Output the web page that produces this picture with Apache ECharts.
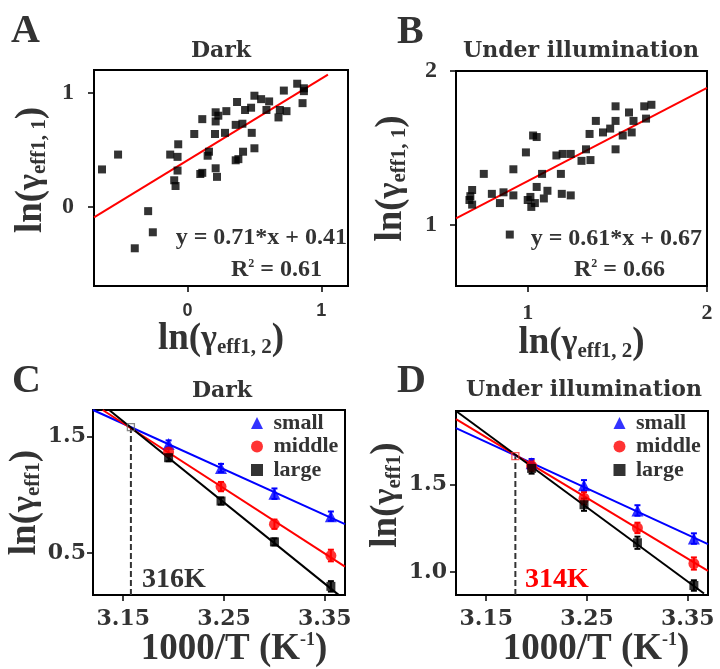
<!DOCTYPE html>
<html>
<head>
<meta charset="UTF-8">
<title>ln(γ) panels</title>
<script src="https://cdn.jsdelivr.net/npm/echarts@6.0.0/dist/echarts.min.js"></script>
<style>
  html, body { margin: 0; padding: 0; background: #fff; }
  #chart { width: 720px; height: 669px; }
</style>
</head>
<body>
<div id="chart"></div>
<script>
// ---- panel A (dark) ----
const darkX = [-0.64, -0.52, -0.295, -0.26, -0.395, -0.13, -0.07, -0.075, -0.075, -0.10, -0.09, 0.05, 0.11, 0.095, 0.11, 0.16, 0.15,
  0.21, 0.21, 0.23, 0.29, 0.205, 0.28, 0.21, 0.22, 0.37, 0.36, 0.41, 0.36, 0.38, 0.415, 0.43, 0.475, 0.50, 0.55, 0.48, 0.50,
  0.61, 0.59, 0.68, 0.69, 0.74, 0.72, 0.82, 0.87, 0.86, 0.87];
const darkY = [0.33, 0.46, -0.035, -0.22, -0.36, 0.46, 0.55, 0.44, 0.32, 0.235, 0.185, 0.64, 0.77, 0.29, 0.30, 0.485, 0.45,
  0.83, 0.75, 0.80, 0.84, 0.64, 0.65, 0.34, 0.265, 0.92, 0.72, 0.73, 0.41, 0.42, 0.485, 0.85, 0.87, 0.975, 0.945, 0.65, 0.515,
  0.925, 0.85, 0.785, 0.85, 0.84, 1.02, 1.08, 1.015, 0.91, 1.04];
const darkFit = [[-0.70, -0.09], [1.05, 1.16]];

// ---- panel B (under illumination) ----
const illumX = [0.68, 0.69, 0.675, 0.69, 0.755, 0.80, 0.845, 0.865, 0.92, 0.92, 0.90, 0.99, 1.0, 1.015, 1.02, 1.04, 1.03, 1.05,
  1.05, 1.08, 1.09, 1.11, 1.185, 1.19, 1.24, 1.16, 1.195, 1.24, 1.30, 1.35, 1.325, 1.345, 1.38, 1.42, 1.46, 1.49, 1.49, 1.49,
  1.53, 1.565, 1.58, 1.59, 1.66, 1.65, 1.69];
const illumY = [1.185, 1.225, 1.16, 1.13, 1.33, 1.20, 1.14, 1.21, 1.19, 1.36, 0.935, 1.47, 1.16, 1.18, 1.115, 1.14, 1.58, 1.57,
  1.245, 1.33, 1.17, 1.22, 1.33, 1.20, 1.19, 1.45, 1.46, 1.46, 1.415, 1.42, 1.49, 1.59, 1.675, 1.60, 1.625, 1.77, 1.675, 1.49,
  1.58, 1.73, 1.60, 1.675, 1.69, 1.77, 1.78];
const illumFit = [[0.6, 1.04], [2.0, 1.89]];

// ---- panels C / D: 1000/T ----
const invT = [3.195, 3.247, 3.300, 3.356];

const darkSmall = [1.439, 1.232, 1.011, 0.818];
const darkMiddle = [1.37, 1.072, 0.749, 0.48];
const darkLarge = [1.32, 0.948, 0.597, 0.215];
const darkSmallErr = [0.03, 0.035, 0.045, 0.04];
const darkMiddleErr = [0.03, 0.04, 0.04, 0.05];
const darkLargeErr = [0.03, 0.03, 0.03, 0.045];
const darkSmallFit = [[3.12, 1.73], [3.37, 0.749]];
const darkMiddleFit = [[3.1296, 1.73], [3.37, 0.384]];
const darkLargeFit = [[3.136, 1.73], [3.364, 0.14]];
const darkCross = [3.1576, 1.583];

const illumSmall = [1.622, 1.496, 1.352, 1.191];
const illumMiddle = [1.607, 1.422, 1.252, 1.048];
const illumLarge = [1.593, 1.385, 1.167, 0.922];
const illumSmallErr = [0.025, 0.03, 0.03, 0.03];
const illumMiddleErr = [0.03, 0.035, 0.03, 0.035];
const illumLargeErr = [0.03, 0.035, 0.035, 0.03];
const illumSmallFit = [[3.12, 1.824], [3.37, 1.159]];
const illumMiddleFit = [[3.12, 1.876], [3.37, 1.006]];
const illumLargeFit = [[3.12, 1.922], [3.366, 0.876]];
const illumCross = [3.1789, 1.663];

const TXT = '#333';
const SERIF = 'Liberation Serif';
const WIDE = 'DejaVu Serif';

const nameRich = {
  a: { fontFamily: SERIF, fontWeight: 'bold', fontSize: 37, color: TXT },
  g: { fontFamily: SERIF, fontWeight: 'bold', fontSize: 34, color: TXT },
  s: { fontFamily: SERIF, fontWeight: 'bold', fontSize: 21, color: TXT, verticalAlign: 'bottom' },
  b: { fontFamily: SERIF, fontWeight: 'bold', fontSize: 37, color: TXT },
  sup: { fontFamily: SERIF, fontWeight: 'bold', fontSize: 18, color: TXT, verticalAlign: 'top' }
};

function axis(gi, min, max, ticks, opt) {
  return {
    type: 'value', gridIndex: gi, min: min, max: max,
    splitLine: { show: false },
    axisLine: { show: true, onZero: false, lineStyle: { color: '#000', width: 2 } },
    axisTick: { show: true, inside: false, length: 6, customValues: ticks, lineStyle: { color: '#000', width: 1.5 } },
    axisLabel: {
      customValues: ticks, margin: opt.margin, formatter: opt.fmt,
      fontFamily: opt.font, fontWeight: 'bold', fontSize: opt.size, color: opt.color || TXT
    },
    name: opt.name, nameLocation: 'middle', nameGap: opt.gap,
    nameTextStyle: { rich: nameRich, padding: opt.pad || 0 }
  };
}

function pts(xs, ys) { return xs.map((x, i) => [x, ys[i]]); }

function fitLine(gi, data, color) {
  return { type: 'line', name: 'fit', xAxisIndex: gi, yAxisIndex: gi, data: data, symbol: 'none',
    lineStyle: { color: color, width: 2 }, clip: true, silent: true, z: 2 };
}

function errBars(gi, ys, errs, color) {
  return {
    type: 'custom', xAxisIndex: gi, yAxisIndex: gi, silent: true, z: 3,
    encode: { x: 0, y: [1, 2] },
    data: invT.map((x, i) => [x, ys[i] - errs[i], ys[i] + errs[i]]),
    renderItem: function (params, api) {
      const lo = api.coord([api.value(0), api.value(1)]);
      const hi = api.coord([api.value(0), api.value(2)]);
      const st = { stroke: color, lineWidth: 2 };
      return { type: 'group', children: [
        { type: 'line', shape: { x1: lo[0], y1: lo[1], x2: hi[0], y2: hi[1] }, style: st },
        { type: 'line', shape: { x1: lo[0] - 3, y1: lo[1], x2: lo[0] + 3, y2: lo[1] }, style: st },
        { type: 'line', shape: { x1: hi[0] - 3, y1: hi[1], x2: hi[0] + 3, y2: hi[1] }, style: st }
      ] };
    }
  };
}

function groupMarks(gi, name, ys, symbol, size, color) {
  return { type: 'scatter', name: name, xAxisIndex: gi, yAxisIndex: gi, data: pts(invT, ys),
    symbol: symbol, symbolSize: size, itemStyle: { color: color }, z: 4 };
}

function crossing(gi, cross, yMin, color) {
  return [
    { type: 'line', name: 'cross', xAxisIndex: gi, yAxisIndex: gi, data: [[cross[0], yMin], cross], symbol: 'none',
      lineStyle: { color: '#333', width: 2, type: [6, 3] }, silent: true, z: 1 },
    { type: 'scatter', name: 'crosspt', xAxisIndex: gi, yAxisIndex: gi, data: [cross], symbol: 'rect', symbolSize: 7,
      itemStyle: { color: 'rgba(0,0,0,0)', borderColor: color, borderWidth: 1.3 }, z: 5, silent: true }
  ];
}

function txt(o) {
  return Object.assign({ padding: 0, textVerticalAlign: 'middle' }, o);
}

const titleFont = { fontFamily: WIDE, fontWeight: 'bold', fontSize: 22, color: TXT };
const letterFont = { fontFamily: SERIF, fontWeight: 'bold', fontSize: 40, color: TXT };
const eqRich = {
  e: { fontFamily: SERIF, fontWeight: 'bold', fontSize: 24, color: TXT },
  p: { fontFamily: SERIF, fontWeight: 'bold', fontSize: 12, color: TXT, verticalAlign: 'top' }
};

const chart = echarts.init(document.getElementById('chart'), null, { renderer: 'canvas' });

const gridBase = { show: true, borderColor: '#000', borderWidth: 2, backgroundColor: 'transparent', containLabel: false };

const wideTick = (v) => v.toFixed(2);
const oneDec = (v) => v.toFixed(1);

chart.setOption({
  animation: false,
  backgroundColor: '#fff',
  title: [
    txt({ text: 'A', left: 11, top: 31.5, textStyle: letterFont }),
    txt({ text: 'B', left: 397, top: 32.5, textStyle: letterFont }),
    txt({ text: 'C', left: 12, top: 381.5, textStyle: letterFont }),
    txt({ text: 'D', left: 397, top: 381.5, textStyle: letterFont }),
    txt({ text: 'Dark', left: 221, top: 51, textAlign: 'center', textStyle: titleFont }),
    txt({ text: 'Under illumination', left: 581, top: 51, textAlign: 'center', textStyle: titleFont }),
    txt({ text: 'Dark', left: 222, top: 391, textAlign: 'center', textStyle: titleFont }),
    txt({ text: 'Under illumination', left: 584, top: 390.5, textAlign: 'center', textStyle: titleFont }),
    txt({ text: '{e|y = 0.71*x + 0.41}', right: 373, top: 238, textStyle: { rich: eqRich } }),
    txt({ text: '{e|R}{p|2}{e| = 0.61}', right: 398, top: 270, textStyle: { rich: eqRich } }),
    txt({ text: '{e|y = 0.61*x + 0.67}', right: 18, top: 239, textStyle: { rich: eqRich } }),
    txt({ text: '{e|R}{p|2}{e| = 0.66}', right: 55, top: 270, textStyle: { rich: eqRich } }),
    txt({ text: '316K', left: 142, top: 580, textStyle: { fontFamily: SERIF, fontWeight: 'bold', fontSize: 28, color: TXT } }),
    txt({ text: '314K', left: 525, top: 580, textStyle: { fontFamily: SERIF, fontWeight: 'bold', fontSize: 28, color: '#ff0000' } })
  ],
  legend: [
    { left: 251, top: 412, orient: 'vertical', padding: 0, itemGap: 1.5, itemWidth: 12, itemHeight: 12,
      data: ['small', 'middle', 'large'], formatter: (n) => ' ' + n, selectedMode: false,
      textStyle: { fontFamily: SERIF, fontWeight: 'bold', fontSize: 22, color: TXT } },
    { left: 613.5, top: 412, orient: 'vertical', padding: 0, itemGap: 1.5, itemWidth: 12, itemHeight: 12,
      data: ['small', 'middle', 'large'], formatter: (n) => ' ' + n, selectedMode: false,
      textStyle: { fontFamily: SERIF, fontWeight: 'bold', fontSize: 22, color: TXT } }
  ],
  grid: [
    Object.assign({ left: 94, top: 70, width: 254, height: 216 }, gridBase),
    Object.assign({ left: 456, top: 71, width: 251, height: 215 }, gridBase),
    Object.assign({ left: 93, top: 410, width: 252, height: 192 }, gridBase),
    Object.assign({ left: 456, top: 411, width: 252, height: 191 }, gridBase)
  ],
  xAxis: [
    axis(0, -0.7, 1.2, [0, 1], { margin: 16, font: 'Liberation Sans', size: 18,
      name: '{a|ln(}{g|γ}{s|eff1, 2}{a|)}', gap: 28 }),
    axis(1, 0.6, 2, [1, 2], { margin: 16, font: SERIF, size: 22,
      name: '{a|ln(}{g|γ}{s|eff1, 2}{a|)}', gap: 28 }),
    axis(2, 3.12, 3.37, [3.15, 3.25, 3.35], { margin: 13, font: WIDE, size: 22, fmt: wideTick,
      name: '{b|1000/T (K}{sup|-1}{b|)}', gap: 32, pad: [0, 0, 0, 30] }),
    axis(3, 3.12, 3.37, [3.15, 3.25, 3.35], { margin: 13, font: WIDE, size: 22, fmt: wideTick,
      name: '{b|1000/T (K}{sup|-1}{b|)}', gap: 32, pad: [0, 0, 0, 28] })
  ],
  yAxis: [
    axis(0, -0.69, 1.2, [0, 1], { margin: 20, font: SERIF, size: 24,
      name: '{a|ln(}{g|γ}{s|eff1, 1}{a|)}', gap: 44, pad: [0, 0, 0, 16] }),
    axis(1, 0.6, 2, [1, 2], { margin: 19, font: SERIF, size: 24,
      name: '{a|ln(}{g|γ}{s|eff1, 1}{a|)}', gap: 46 }),
    axis(2, 0.14, 1.73, [0.5, 1.5], { margin: 7, font: WIDE, size: 22, fmt: oneDec,
      name: '{a|ln(}{g|γ}{s|eff1}{a|)}', gap: 45 }),
    axis(3, 0.867, 1.922, [1.0, 1.5], { margin: 9, font: WIDE, size: 22, fmt: oneDec,
      name: '{a|ln(}{g|γ}{s|eff1}{a|)}', gap: 46, pad: [0, 0, 0, 16] })
  ],
  series: [
    fitLine(0, darkFit, '#ff0000'),
    { type: 'scatter', name: 'darkPts', xAxisIndex: 0, yAxisIndex: 0, data: pts(darkX, darkY),
      symbol: 'rect', symbolSize: 8, itemStyle: { color: '#000' }, z: 3 },
    fitLine(1, illumFit, '#ff0000'),
    { type: 'scatter', name: 'illumPts', xAxisIndex: 1, yAxisIndex: 1, data: pts(illumX, illumY),
      symbol: 'rect', symbolSize: 8, itemStyle: { color: '#000' }, z: 3 },

    ...crossing(2, darkCross, 0.14, '#666'),
    fitLine(2, darkSmallFit, '#0000ff'),
    fitLine(2, darkMiddleFit, '#ff0000'),
    fitLine(2, darkLargeFit, '#000'),
    errBars(2, darkSmall, darkSmallErr, '#0000ff'),
    errBars(2, darkMiddle, darkMiddleErr, '#ff0000'),
    errBars(2, darkLarge, darkLargeErr, '#000'),
    groupMarks(2, 'small', darkSmall, 'triangle', 12, '#0000ff'),
    groupMarks(2, 'middle', darkMiddle, 'circle', 11, '#ff0000'),
    groupMarks(2, 'large', darkLarge, 'rect', 9, '#000'),

    ...crossing(3, illumCross, 0.867, '#ff3333'),
    fitLine(3, illumSmallFit, '#0000ff'),
    fitLine(3, illumMiddleFit, '#ff0000'),
    fitLine(3, illumLargeFit, '#000'),
    errBars(3, illumSmall, illumSmallErr, '#0000ff'),
    errBars(3, illumMiddle, illumMiddleErr, '#ff0000'),
    errBars(3, illumLarge, illumLargeErr, '#000'),
    groupMarks(3, 'small', illumSmall, 'triangle', 12, '#0000ff'),
    groupMarks(3, 'middle', illumMiddle, 'circle', 11, '#ff0000'),
    groupMarks(3, 'large', illumLarge, 'rect', 9, '#000')
  ]
});
</script>
</body>
</html>
